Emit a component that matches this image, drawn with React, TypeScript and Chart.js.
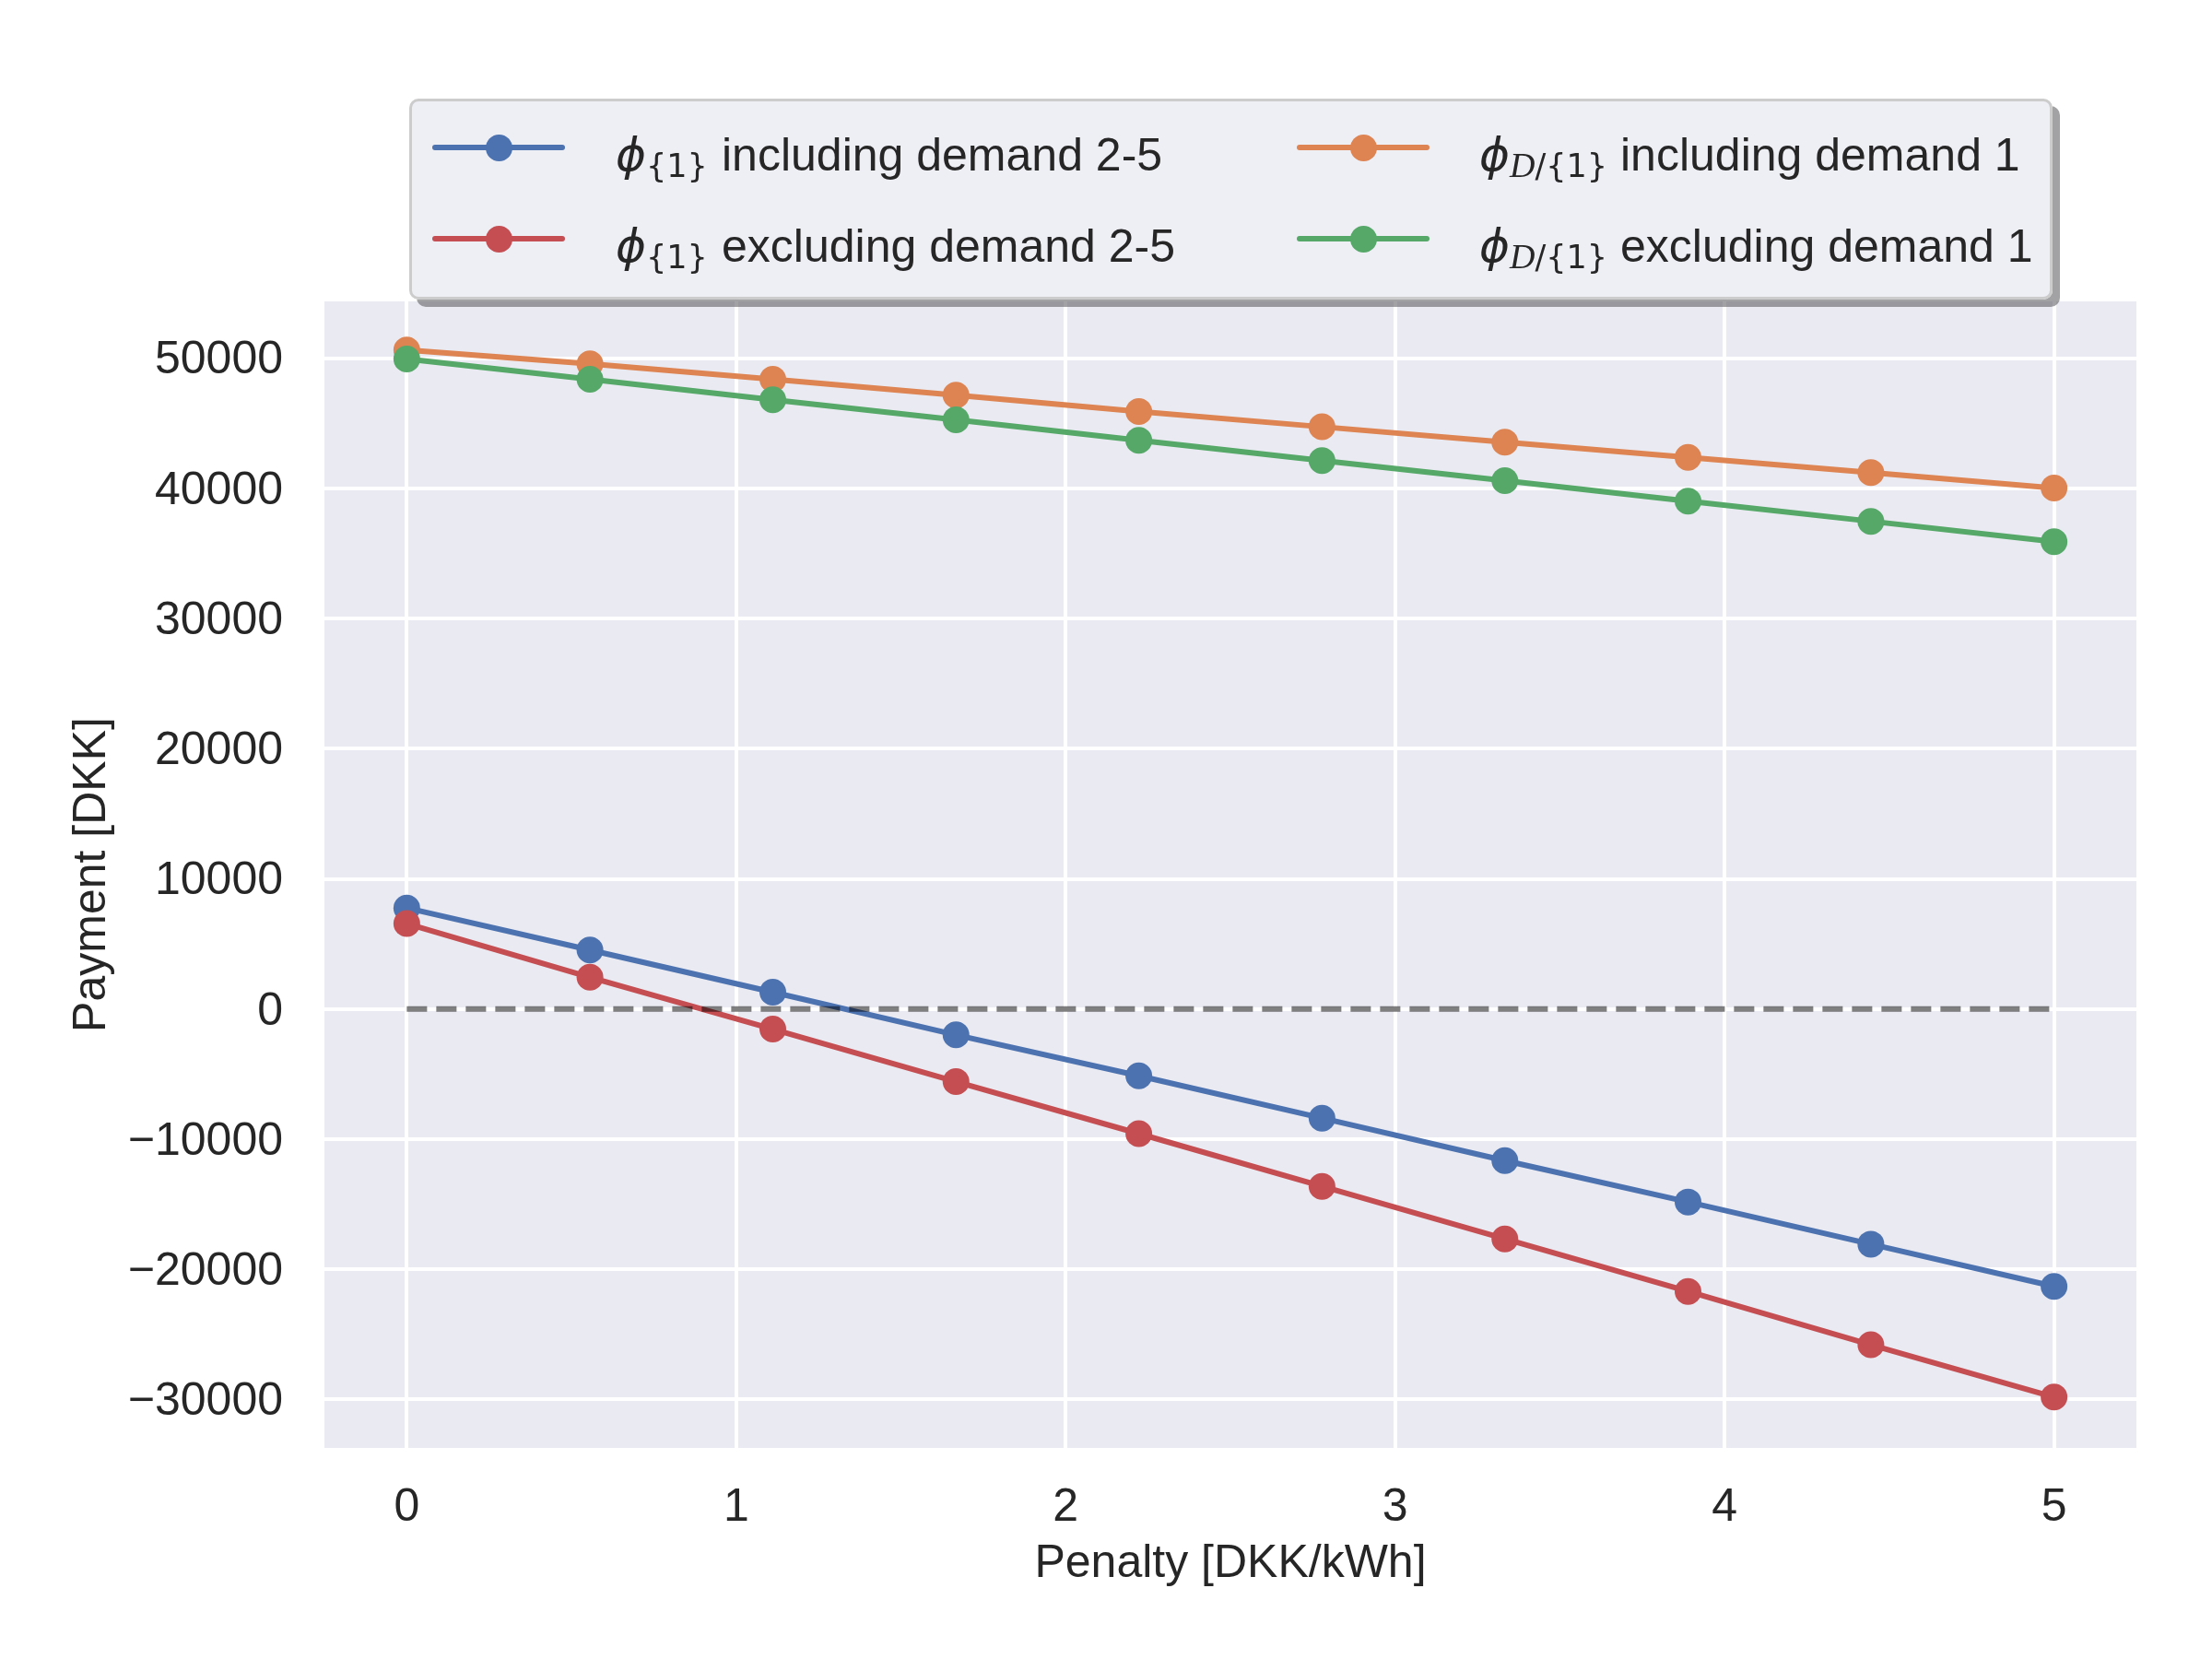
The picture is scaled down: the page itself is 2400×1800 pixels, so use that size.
import { useEffect, useRef } from 'react'
import { Chart, registerables } from 'chart.js'
import type { ChartConfiguration, Plugin } from 'chart.js'

Chart.register(...registerables)

// Penalty levels on the x axis [DKK/kWh]
const penalty = [0, 0.556, 1.111, 1.667, 2.222, 2.778, 3.333, 3.889, 4.444, 5]

// Payments [DKK]
const phi1Incl = [7760, 4530, 1290, -1990, -5140, -8390, -11650, -14830, -18070, -21320]
const phi1Excl = [6560, 2440, -1550, -5580, -9580, -13630, -17670, -21700, -25800, -29820]
const phiDIncl = [50630, 49570, 48390, 47160, 45910, 44730, 43550, 42390, 41220, 40030]
const phiDExcl = [49940, 48390, 46810, 45270, 43690, 42140, 40600, 39020, 37470, 35910]

// zero reference, drawn from the first to the last penalty
const zeroRef = [0, 0]

const xTicks = [0, 1, 2, 3, 4, 5]
const yTicks = [-30000, -20000, -10000, 0, 10000, 20000, 30000, 40000, 50000]

// Legend (column-major, like matplotlib with ncol=2)
const legendColors = ['#4C72B0', '#C44E52', '#DD8452', '#55A868']
const legendCal = ['', '', 'D', 'D']
const legendSub = ['{1}', '{1}', '/{1}', '/{1}']
const legendText = ['including demand 2-5', 'excluding demand 2-5', 'including demand 1', 'excluding demand 1']

const SANS = "'Liberation Sans', Arial, sans-serif"
const INK = '#262626'

const fmt = (v: number) => (v < 0 ? '\u2212' + Math.abs(v) : String(v))

const axesBg: Plugin = {
  id: 'axesBg',
  beforeDraw(chart) {
    const { ctx, chartArea: a } = chart
    ctx.save()
    ctx.fillStyle = '#EAEAF2'
    ctx.fillRect(a.left, a.top, a.right - a.left, a.bottom - a.top)
    ctx.restore()
  }
}

function series(label: string, ys: number[], color: string, order: number) {
  return {
    label,
    data: ys.map((y, i) => ({ x: penalty[i], y })),
    borderColor: color,
    backgroundColor: color,
    borderWidth: 6,
    pointRadius: 14.5,
    pointHoverRadius: 14.5,
    pointBorderWidth: 0,
    pointBackgroundColor: color,
    order
  }
}

function LegendBox() {
  const rowY = [160, 259]
  const lineX = [469, 1407]
  const phiX = [668, 1605]
  const textX = [783, 1758]
  return (
    <>
      <div
        style={{
          position: 'absolute', left: 444, top: 107, width: 1783, height: 218,
          boxSizing: 'border-box', border: '3px solid #cccccc', borderRadius: 10,
          background: 'rgba(234,234,242,0.8)', boxShadow: '8px 8px 0 rgba(70,70,73,0.5)'
        }}
      />
      {legendText.map((txt, i) => {
        const col = Math.floor(i / 2)
        const row = i % 2
        const cy = rowY[row]
        const top = cy + 25 - 42.3
        return (
          <div key={i}>
            <div style={{ position: 'absolute', left: lineX[col], top: cy - 3, width: 144, height: 6, borderRadius: 3, background: legendColors[i] }} />
            <div style={{ position: 'absolute', left: lineX[col] + 72 - 14.5, top: cy - 14.5, width: 29, height: 29, borderRadius: '50%', background: legendColors[i] }} />
            <div style={{ position: 'absolute', left: phiX[col], top, lineHeight: '50px', fontSize: 50, fontFamily: "'DejaVu Sans', sans-serif", color: INK, whiteSpace: 'nowrap' }}>
              <span style={{ fontStyle: 'italic' }}>{'\u03D5'}</span>
              <span style={{ fontSize: 35, verticalAlign: -7 }}>
                {legendCal[i] && <span style={{ fontFamily: "'Liberation Serif', serif", fontStyle: 'italic', fontSize: 38 }}>{legendCal[i]}</span>}
                {legendSub[i]}
              </span>
            </div>
            <div style={{ position: 'absolute', left: textX[col], top, lineHeight: '50px', fontSize: 50, fontFamily: SANS, color: INK, whiteSpace: 'nowrap' }}>
              {txt}
            </div>
          </div>
        )
      })}
    </>
  )
}

export default function App() {
  const canvasRef = useRef<HTMLCanvasElement>(null)

  useEffect(() => {
    const canvas = canvasRef.current
    if (!canvas) return

    const tickFont = { family: SANS, size: 50, lineHeight: 1 }

    const config: ChartConfiguration<'line'> = {
      type: 'line',
      data: {
        datasets: [
          series('phi1 including demand 2-5', phi1Incl, legendColors[0], 5),
          series('phi1 excluding demand 2-5', phi1Excl, legendColors[1], 4),
          series('phiD including demand 1', phiDIncl, legendColors[2], 3),
          series('phiD excluding demand 1', phiDExcl, legendColors[3], 2),
          {
            label: 'zero',
            data: zeroRef.map((y, i) => ({ x: i === 0 ? penalty[0] : penalty[penalty.length - 1], y })),
            borderColor: 'rgba(0,0,0,0.5)',
            borderWidth: 6,
            borderDash: [22, 10],
            pointRadius: 0,
            order: 1
          }
        ]
      },
      options: {
        animation: false,
        responsive: true,
        maintainAspectRatio: false,
        devicePixelRatio: 1,
        layout: { padding: { left: 0, top: 327, right: 82, bottom: 0 } },
        plugins: { legend: { display: false }, tooltip: { enabled: false } },
        scales: {
          x: {
            type: 'linear',
            min: -0.25,
            max: 5.25,
            afterBuildTicks: (s) => { s.ticks = xTicks.map((value) => ({ value })) },
            afterFit: (s) => { s.height = 229 },
            grid: { color: '#ffffff', lineWidth: 4, drawTicks: false },
            border: { display: false },
            ticks: { color: INK, font: tickFont, padding: 40, maxRotation: 0, callback: (v) => fmt(Number(v)) },
            title: { display: true, text: 'Penalty [DKK/kWh]', color: INK, font: tickFont, padding: { top: 0, bottom: 78 } }
          },
          y: {
            type: 'linear',
            min: -33730,
            max: 54370,
            afterBuildTicks: (s) => { s.ticks = yTicks.map((value) => ({ value })) },
            afterFit: (s) => { s.width = 352 },
            grid: { color: '#ffffff', lineWidth: 4, drawTicks: false },
            border: { display: false },
            ticks: { color: INK, font: tickFont, padding: 45, labelOffset: 3, callback: (v) => fmt(Number(v)) },
            title: { display: true, text: 'Payment [DKK]', color: INK, font: tickFont, padding: { top: 75, bottom: 0 } }
          }
        }
      },
      plugins: [axesBg]
    }

    const chart = new Chart(canvas, config)
    return () => chart.destroy()
  }, [])

  return (
    <div style={{ position: 'absolute', left: 0, top: 0, width: 2400, height: 1800, background: '#ffffff' }}>
      <canvas ref={canvasRef} />
      <LegendBox />
    </div>
  )
}
